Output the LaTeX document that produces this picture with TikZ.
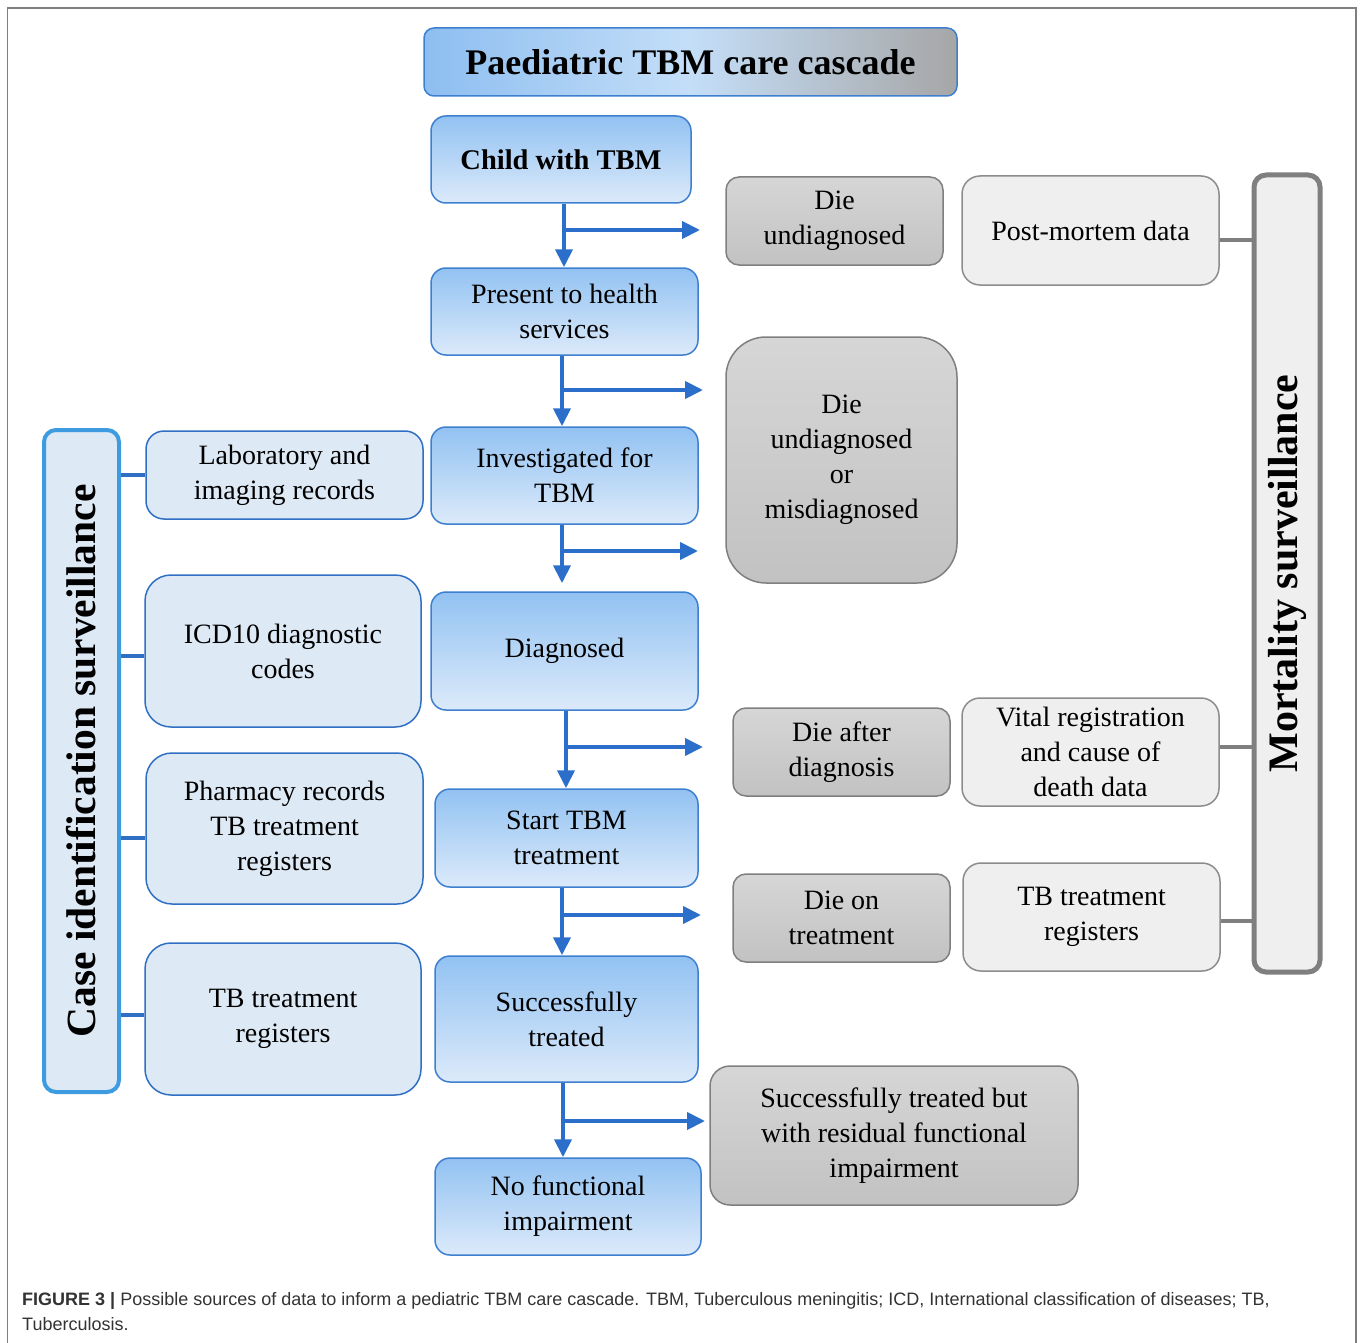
\documentclass[tikz,border=0pt]{standalone}
\usepackage{fontspec}
\setmainfont{Liberation Serif}
\newfontfamily\capfont{Liberation Sans}
\usetikzlibrary{arrows.meta,calc}
\definecolor{bTop}{HTML}{92C2F2}
\definecolor{bBot}{HTML}{DCEAFA}
\definecolor{bLine}{HTML}{3E7FD0}
\definecolor{lbFill}{HTML}{DDE9F5}
\definecolor{lbLine}{HTML}{2F6FC4}
\definecolor{caseLine}{HTML}{3D9BE0}
\definecolor{gTop}{HTML}{D6D6D6}
\definecolor{gBot}{HTML}{C2C2C2}
\definecolor{gLine}{HTML}{7F7F7F}
\definecolor{lgFill}{HTML}{EFEFEF}
\definecolor{lgLine}{HTML}{8C8C8C}
\definecolor{arrowBlue}{HTML}{2B6FCB}
\definecolor{tLeft}{HTML}{8DBEF0}
\definecolor{tMid}{HTML}{C4DEF8}
\definecolor{tRight}{HTML}{A6A6A6}
\definecolor{capText}{HTML}{333333}
\tikzset{
  txt/.style={align=center, inner sep=0pt, font=\fontsize{28}{35}\selectfont},
  cascade/.style={txt, draw=bLine, line width=1.5pt, rounded corners=15pt, top color=bTop, bottom color=bBot},
  sourcebox/.style={txt, draw=lbLine, line width=1.5pt, rounded corners=26pt, fill=lbFill},
  diebox/.style={txt, draw=gLine, line width=1.5pt, rounded corners=13pt, top color=gTop, bottom color=gBot},
  mortsrc/.style={txt, draw=lgLine, line width=1.5pt, rounded corners=18pt, fill=lgFill},
  flow/.style={draw=arrowBlue, line width=4pt, -{Triangle[length=18pt,width=17pt]}},
  bluelink/.style={draw=lbLine, line width=4pt},
  graylink/.style={draw=gLine, line width=4pt},
}
\begin{document}
\begin{tikzpicture}[x=1pt,y=-1pt]
\useasboundingbox (0,0) rectangle (1360,1343);
% outer frame
\draw[draw=gLine, line width=1.5pt] (7.5,1343) -- (7.5,8) -- (1356,8) -- (1356,1343);

% title
\node[txt, draw=bLine, line width=1.5pt, rounded corners=10pt, left color=tLeft, right color=tRight, middle color=tMid,
      minimum width=533pt, minimum height=68pt, font=\bfseries\fontsize{36}{40}\selectfont] (title) at (690.5,62) {Paediatric TBM care cascade};

% cascade
\node[cascade, minimum width=260pt, minimum height=87pt, font=\bfseries\fontsize{28.5}{35}\selectfont] (child) at (561,159.5) {Child with TBM};
\node[cascade, minimum width=267pt, minimum height=87pt] (present) at (564.5,311.5) {Present to health\\services};
\node[cascade, minimum width=267pt, minimum height=97pt] (invest) at (564.5,475.5) {Investigated for\\TBM};
\node[cascade, minimum width=267pt, minimum height=118pt] (diag) at (564.5,651) {Diagnosed};
\node[cascade, minimum width=263pt, minimum height=98pt] (start) at (566.5,838) {Start TBM\\treatment};
\node[cascade, minimum width=263pt, minimum height=126pt] (succ) at (566.5,1019) {Successfully\\treated};
\node[cascade, minimum width=266pt, minimum height=97pt] (nofi) at (568,1206.5) {No functional\\impairment};

% die boxes
\node[diebox, minimum width=217pt, minimum height=88pt] (dieu) at (834.5,221) {Die\\undiagnosed};
\node[diebox, rounded corners=40pt, minimum width=231pt, minimum height=246pt] (diem) at (841.5,460) {Die\\undiagnosed\\or\\misdiagnosed};
\node[diebox, minimum width=217pt, minimum height=88pt] (diea) at (841.5,752) {Die after\\diagnosis};
\node[diebox, minimum width=217pt, minimum height=88pt] (diet) at (841.5,918) {Die on\\treatment};
\node[diebox, rounded corners=20pt, minimum width=368pt, minimum height=139pt] (resid) at (894,1135.5) {Successfully treated but\\with residual functional\\impairment};

% mortality sources
\node[mortsrc, minimum width=257pt, minimum height=109pt] (pm) at (1090.5,230.5) {Post-mortem data};
\node[mortsrc, minimum width=257pt, minimum height=108pt] (vr) at (1090.5,752) {Vital registration\\and cause of\\death data};
\node[mortsrc, minimum width=257pt, minimum height=108pt] (tbm) at (1091.5,917) {TB treatment\\registers};

% mortality bar
\node[draw=gLine, line width=5pt, rounded corners=12pt, fill=lgFill, inner sep=0pt,
      minimum width=66pt, minimum height=797pt, font=\bfseries\fontsize{42}{44}\selectfont] (mort) at (1287,573.5)
      {\rotatebox{90}{Mortality surveillance}};

% case identification bar
\node[draw=caseLine, line width=4pt, rounded corners=12pt, fill=lbFill, inner sep=0pt,
      minimum width=75pt, minimum height=662pt, font=\bfseries\fontsize{41.5}{44}\selectfont] (case) at (81.5,761)
      {\rotatebox{90}{Case identification surveillance}};

% case sources
\node[sourcebox, rounded corners=18pt, minimum width=277pt, minimum height=88pt] (lab) at (284.5,475) {Laboratory and\\imaging records};
\node[sourcebox, minimum width=276pt, minimum height=152pt] (icd) at (283,651) {ICD10 diagnostic\\codes};
\node[sourcebox, minimum width=277pt, minimum height=151pt] (pharm) at (284.5,828.5) {Pharmacy records\\TB treatment\\registers};
\node[sourcebox, minimum width=276pt, minimum height=152pt] (tbl) at (283,1019) {TB treatment\\registers};

% links case
\draw[bluelink] (lab.west) -- (lab.west -| case.east);
\draw[bluelink] ([yshift=-5pt]icd.west) -- ([yshift=-5pt]icd.west -| case.east);
\draw[bluelink] ([yshift=-9.5pt]pharm.west) -- ([yshift=-9.5pt]pharm.west -| case.east);
\draw[bluelink] ([yshift=4pt]tbl.west) -- ([yshift=4pt]tbl.west -| case.east);

% links mortality
\draw[graylink] ([yshift=-9.5pt]pm.east) -- ([yshift=-9.5pt]pm.east -| mort.west);
\draw[graylink] ([yshift=5pt]vr.east) -- ([yshift=5pt]vr.east -| mort.west);
\draw[graylink] ([yshift=-4pt]tbm.east) -- ([yshift=-4pt]tbm.east -| mort.west);

% branch points and ends
\coordinate (b1) at (564,230);  \coordinate (e1) at (700,230);
\coordinate (b2) at (562,390);  \coordinate (e2) at (703,390);
\coordinate (b3) at (562,551);  \coordinate (e3) at (698,551);
\coordinate (b4) at (566,747);  \coordinate (e4) at (703,747);
\coordinate (b5) at (562,915);  \coordinate (e5) at (701,915);
\coordinate (b6) at (563,1121); \coordinate (e6) at (705,1121);

\draw[flow] (child.south -| b1) -- (present.north -| b1);
\draw[flow] (present.south -| b2) -- (invest.north -| b2);
\draw[flow] (invest.south -| b3) -- ([yshift=8pt]diag.north -| b3);
\draw[flow] (diag.south -| b4) -- (start.north -| b4);
\draw[flow] (start.south -| b5) -- (succ.north -| b5);
\draw[flow] (succ.south -| b6) -- (nofi.north -| b6);

\draw[flow] (b1) -- (e1);
\draw[flow] (b2) -- (e2);
\draw[flow] (b3) -- (e3);
\draw[flow] (b4) -- (e4);
\draw[flow] (b5) -- (e5);
\draw[flow] (b6) -- (e6);

% caption
\node[anchor=north west, align=left, inner sep=0pt, text=capText, font=\capfont\fontsize{18}{25}\selectfont] (cap) at (22,1292)
  {{\bfseries FIGURE 3 |} Possible sources of data to inform a pediatric TBM care cascade. TBM, Tuberculous meningitis; ICD, International classification of diseases; TB,\\Tuberculosis.};
\end{tikzpicture}
\end{document}
